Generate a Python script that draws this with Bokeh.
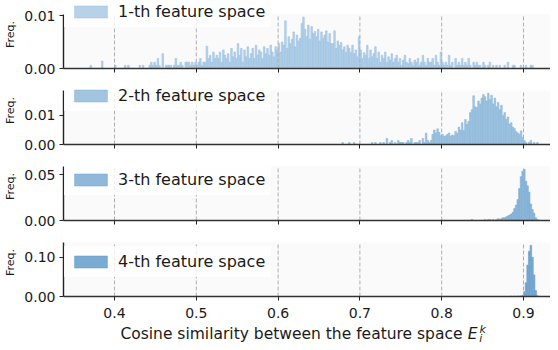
from bokeh.plotting import figure
from bokeh.layouts import column
from bokeh.models import Range1d, FixedTicker, NumeralTickFormatter, Legend, LegendItem
from bokeh.core.properties import value
from bokeh.embed import file_html
from bokeh.resources import INLINE

# ---------------- data ----------------
BIN_WIDTH = 0.002
X_TICKS = [0.4, 0.5, 0.6, 0.7, 0.8, 0.9]
X_TICK_LABELS = ["0.4", "0.5", "0.6", "0.7", "0.8", "0.9"]
PANEL_LABELS = ["1-th feature space", "2-th feature space",
                "3-th feature space", "4-th feature space"]
Y_TICKS = [[0.0, 0.01], [0.0, 0.01], [0.0, 0.05], [0.0, 0.10]]
Y_MAX = [0.01019, 0.01862, 0.0591, 0.1374]
Y_LABEL = "Freq."
X_LABEL = "Cosine similarity between the feature space"
X_LABEL_E, X_LABEL_SUB, X_LABEL_SUP = "E", "i", "k"

# histogram frequencies, in units of 1e-4, one value per bin of BIN_WIDTH
start_1 = 0.366
freq_1 = [
    0, 0, 6, 0, 0, 0, 0, 0, 0, 14,
    0, 0, 0, 0, 0, 0, 0, 6, 0, 0,
    0, 0, 0, 6, 0, 6, 0, 0, 0, 0,
    0, 0, 6, 0, 6, 0, 0, 0, 6, 12,
    6, 12, 6, 19, 6, 0, 28, 0, 6, 6,
    6, 6, 0, 6, 19, 6, 6, 12, 6, 0,
    12, 12, 12, 6, 12, 6, 12, 6, 12, 19,
    6, 12, 12, 42, 19, 25, 12, 31, 19, 25,
    19, 31, 12, 35, 25, 19, 28, 12, 38, 22,
    31, 19, 47, 25, 38, 12, 35, 22, 41, 19,
    28, 38, 19, 44, 25, 35, 31, 19, 41, 28,
    38, 25, 44, 31, 22, 41, 35, 47, 31, 50,
    44, 90, 38, 60, 47, 55, 69, 41, 63, 52,
    57, 85, 97, 74, 60, 82, 55, 79, 66, 70,
    60, 74, 52, 69, 57, 63, 71, 50, 66, 47,
    47, 71, 38, 52, 44, 49, 35, 41, 30, 44,
    38, 30, 44, 28, 35, 22, 60, 35, 19, 30,
    25, 44, 19, 35, 22, 28, 41, 19, 31, 12,
    25, 19, 31, 12, 22, 16, 28, 12, 19, 25,
    12, 19, 6, 16, 25, 12, 9, 19, 12, 6,
    16, 12, 19, 6, 12, 25, 12, 6, 19, 12,
    12, 19, 6, 25, 12, 6, 31, 12, 6, 12,
    6, 25, 6, 12, 0, 19, 6, 12, 6, 19,
    6, 12, 6, 19, 6, 0, 12, 6, 12, 6,
    6, 0, 12, 6, 0, 6, 12, 0, 6, 0,
    6, 0, 6, 0, 0, 6, 0, 12, 0, 0,
    6, 6, 0, 0, 0, 6, 0, 0, 6, 0,
    0, 6, 6, 0, 0, 0, 0, 0, 0, 0,
]

start_2 = 0.676
freq_2 = [
    0, 7, 0, 0, 0, 7, 0, 0, 7, 0,
    0, 0, 0, 0, 0, 0, 0, 0, 0, 7,
    0, 7, 0, 0, 7, 0, 7, 0, 21, 0,
    7, 14, 0, 7, 0, 14, 7, 7, 7, 0,
    7, 14, 7, 21, 0, 7, 7, 7, 14, 0,
    21, 7, 39, 14, 7, 14, 35, 50, 40, 54,
    42, 30, 35, 28, 30, 35, 40, 28, 33, 30,
    45, 38, 60, 50, 75, 48, 86, 70, 80, 110,
    120, 168, 130, 128, 150, 140, 160, 172, 165, 150,
    177, 155, 170, 140, 160, 130, 145, 120, 135, 100,
    110, 86, 95, 70, 75, 60, 55, 45, 40, 35,
    47, 25, 14, 7, 0, 7, 14, 0, 7, 0,
    7, 0,
]

start_3 = 0.836
freq_3 = [
    10, 0, 0, 0, 0, 0, 0, 0, 10, 0,
    10, 10, 0, 10, 0, 10, 20, 15, 20, 30,
    30, 40, 50, 60, 70, 90, 130, 170, 230, 350,
    480, 540, 560, 430, 380, 310, 180, 120, 80, 30,
    10,
]

start_4 = 0.884
freq_4 = [
    10, 0, 10, 0, 10, 10, 10, 30, 120, 350,
    800, 1150, 1300, 1000, 550, 150, 20,
]

STARTS = [start_1, start_2, start_3, start_4]
FREQS = [freq_1, freq_2, freq_3, freq_4]

# ---------------- style / layout ----------------
FONT = "DejaVu Sans"
TXT = "#1a1a1a"
FILL = ["#b7d2e8", "#a2c4df", "#8fb8d9", "#7aabd2"]
EDGE = ["#93bde0", "#82b2d8", "#72a6d0", "#6199c8"]
X0, X1 = 0.33765, 0.93301
DATA_H = 54          # pixel height of the data area of each panel
HEAD = 14            # white head room above each data area (legend may sit there)
LEGEND_Y = [41, 33, 25, 19]

figs = []
for k in range(4):
    ytop = Y_MAX[k] * (DATA_H + HEAD) / DATA_H
    p = figure(width=550, height=DATA_H + HEAD + 8,
               x_range=Range1d(X0, X1), y_range=Range1d(0, ytop),
               output_backend="svg", toolbar_location=None,
               min_border_left=63, min_border_right=0,
               min_border_top=0, min_border_bottom=8)
    p.background_fill_color = "white"
    p.border_fill_color = "white"
    p.outline_line_color = None
    p.xgrid.visible = False
    p.ygrid.visible = False

    # light panel background (data area only)
    p.quad(left=[X0], right=[X1], bottom=[0], top=[Y_MAX[k]],
           fill_color="#fafafa", line_color=None)

    lefts, rights, tops = [], [], []
    for i, v in enumerate(FREQS[k]):
        if v > 0:
            l = STARTS[k] + i * BIN_WIDTH
            lefts.append(l)
            rights.append(l + BIN_WIDTH)
            tops.append(v / 1e4)
    r = p.quad(left=lefts, right=rights, top=tops, bottom=0,
               fill_color=FILL[k], line_color=EDGE[k], line_width=0.5)

    # dashed vertical grid lines over the bars, spanning the data area
    p.segment(x0=X_TICKS, y0=[0] * len(X_TICKS), x1=X_TICKS,
              y1=[Y_MAX[k]] * len(X_TICKS),
              line_color="#b0b0b0", line_dash="4 2", line_width=1)

    xa = p.xaxis[0]
    xa.axis_line_color = "#333333"
    xa.axis_line_width = 1.6
    xa.ticker = FixedTicker(ticks=[], minor_ticks=X_TICKS)
    xa.major_tick_line_color = None
    xa.minor_tick_out = 4
    xa.minor_tick_in = 0
    xa.minor_tick_line_color = "#222222"
    xa.minor_tick_line_width = 1

    ya = p.yaxis[0]
    ya.bounds = (0, Y_MAX[k])
    ya.ticker = FixedTicker(ticks=Y_TICKS[k])
    ya.formatter = NumeralTickFormatter(format="0.00")
    ya.axis_line_color = "#222222"
    ya.axis_line_width = 1.4
    ya.major_tick_out = 4
    ya.major_tick_in = 0
    ya.major_tick_line_color = "#222222"
    ya.minor_tick_line_color = None
    ya.major_label_text_font = FONT
    ya.major_label_text_font_size = "14px"
    ya.major_label_text_color = TXT
    ya.major_label_standoff = 4
    ya.axis_label = Y_LABEL
    ya.axis_label_text_font = FONT
    ya.axis_label_text_font_size = "11px"
    ya.axis_label_text_font_style = "normal"
    ya.axis_label_text_color = TXT
    ya.axis_label_standoff = 4

    leg = Legend(items=[LegendItem(label=value(PANEL_LABELS[k]), renderers=[r])],
                 location=(1, LEGEND_Y[k]), orientation="vertical",
                 glyph_width=41, glyph_height=15, label_standoff=7,
                 padding=6, spacing=0, margin=0,
                 label_text_font=FONT, label_text_font_size="16px",
                 label_text_color=TXT,
                 background_fill_color="white", background_fill_alpha=0.8,
                 border_line_color="white", border_line_alpha=0.0)
    p.add_layout(leg, "center")
    figs.append(p)

# bottom row: x tick labels of the shared axis and the x-axis title with E_i^k
t = figure(width=550, height=42, x_range=Range1d(X0, X1), y_range=Range1d(0, 42),
           output_backend="svg", toolbar_location=None,
           min_border_left=63, min_border_right=0, min_border_top=0, min_border_bottom=0)
t.axis.visible = False
t.grid.visible = False
t.outline_line_color = None
t.background_fill_color = "white"
t.text(x=X_TICKS, y=[34] * len(X_TICKS), text=X_TICK_LABELS, text_font=value(FONT),
       text_font_size=value("14px"), text_align="center",
       text_baseline="middle", text_color=TXT)
t.text(x=[0.40721], y=[12.8], text=[X_LABEL], text_font=value(FONT),
       text_font_size=value("15.5px"), text_baseline="middle", text_color=TXT)
t.text(x=[0.8318], y=[12.8], text=[X_LABEL_E], text_font=value(FONT),
       text_font_size=value("15.5px"), text_font_style="italic",
       text_baseline="middle", text_color=TXT)
t.text(x=[0.8459], y=[8.4], text=[X_LABEL_SUB], text_font=value(FONT),
       text_font_size=value("11px"), text_font_style="italic",
       text_baseline="middle", text_color=TXT)
t.text(x=[0.8462], y=[17.4], text=[X_LABEL_SUP], text_font=value(FONT),
       text_font_size=value("11px"), text_font_style="italic",
       text_baseline="middle", text_color=TXT)
figs.append(t)

layout = column(*figs, spacing=0)
open("out.html", "w").write(file_html(layout, INLINE))
